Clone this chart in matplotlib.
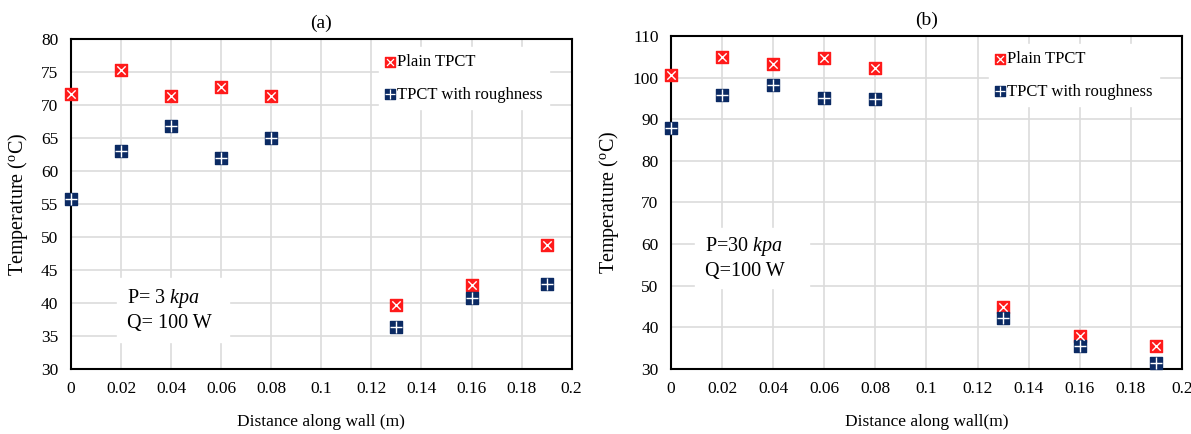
import matplotlib
matplotlib.use("Agg")
import matplotlib.pyplot as plt
from matplotlib.legend_handler import HandlerTuple

plt.rcParams['font.family'] = ['Liberation Serif', 'DejaVu Serif']
plt.rcParams['mathtext.fontset'] = 'custom'
plt.rcParams['mathtext.rm'] = 'Liberation Serif'
plt.rcParams['mathtext.it'] = 'Liberation Serif:italic'

# distance along wall (m)
dist = [0, 0.02, 0.04, 0.06, 0.08, 0.13, 0.16, 0.19]

# (a) P = 3 kpa
plain_a = [71.6, 75.3, 71.3, 72.7, 71.3, 39.7, 42.7, 48.8]
rough_a = [55.8, 63.0, 66.8, 62.0, 65.0, 36.4, 40.8, 42.9]

# (b) P = 30 kpa
plain_b = [100.7, 104.9, 103.2, 104.6, 102.2, 44.8, 38.0, 35.6]
rough_b = [88.0, 95.8, 98.2, 95.1, 94.8, 42.2, 35.5, 31.3]

red = '#ff1a1a'
navy = '#0b2a63'

fig = plt.figure(figsize=(11.91, 4.34), dpi=100)
ax1 = fig.add_axes([0.0596, 0.150, 0.4204, 0.760])
ax2 = fig.add_axes([0.5634, 0.150, 0.4290, 0.767])


def draw(ax, plain, rough, ylim, ystep, title, xlabel, note, box):
    ax.scatter(dist, plain, marker='s', s=80, color=red, zorder=3, clip_on=False)
    ax.scatter(dist, plain, marker='x', s=36, color='white', linewidths=1.0, zorder=4, clip_on=False)
    ax.scatter(dist, rough, marker='s', s=80, color=navy, zorder=3, clip_on=False)
    ax.scatter(dist, rough, marker='+', s=70, color='white', linewidths=1.0, zorder=4, clip_on=False)

    ax.set_xlim(0, 0.2)
    ax.set_ylim(*ylim)
    ax.set_xticks([0, 0.02, 0.04, 0.06, 0.08, 0.1, 0.12, 0.14, 0.16, 0.18, 0.2])
    ax.set_xticklabels(['0', '0.02', '0.04', '0.06', '0.08', '0.1', '0.12', '0.14', '0.16', '0.18', '0.2'])
    ax.set_yticks(range(ylim[0], ylim[1] + 1, ystep))
    ax.tick_params(length=0, labelsize=12.5, pad=9)
    ax.grid(True, color='#dcdcdc', linewidth=1.2, zorder=0)
    ax.set_axisbelow(True)
    for s in ax.spines.values():
        s.set_color('black')
        s.set_linewidth(1.5)

    ax.set_title(title, fontsize=14, pad=8)
    ax.set_xlabel(xlabel, fontsize=12.5, labelpad=12)
    ax.set_ylabel('Temperature ($^{\\rm o}$C)', fontsize=14.5, labelpad=8)

    # white box behind annotation
    x0, x1, y0, y1 = box
    ax.fill_between([x0, x1], y0, y1, color='white', zorder=1)
    ax.text(x0 + 0.004, (y0 + y1) / 2, note, fontsize=14.5, va='center', ha='left',
            linespacing=1.25, zorder=2)

    h1 = (ax.scatter([], [], marker='s', s=55, color=red),
          ax.scatter([], [], marker='x', s=25, color='white', linewidths=0.9))
    h2 = (ax.scatter([], [], marker='s', s=55, color=navy),
          ax.scatter([], [], marker='+', s=45, color='white', linewidths=0.9))
    leg = ax.legend([h1, h2], ['Plain TPCT', 'TPCT with roughness'],
                    handler_map={tuple: HandlerTuple(ndivide=1, pad=0)},
                    loc='upper right', bbox_to_anchor=(0.965, 0.99), fontsize=12,
                    frameon=True, fancybox=False, edgecolor='white', framealpha=1,
                    handlelength=0.6, handletextpad=0.1, labelspacing=1.0,
                    borderaxespad=0.3)
    leg.set_zorder(5)


draw(ax1, plain_a, rough_a, (30, 80), 5, '(a)', 'Distance along wall (m)',
     'P= 3 $\\it{kpa}$\nQ= 100 W', (0.0184, 0.063, 34.1, 43.8))
draw(ax2, plain_b, rough_b, (30, 110), 10, '(b)', 'Distance along wall(m)',
     'P=30 $\\it{kpa}$\nQ=100 W', (0.0094, 0.054, 49.4, 63.8))

fig.savefig('out.png', dpi=100)
